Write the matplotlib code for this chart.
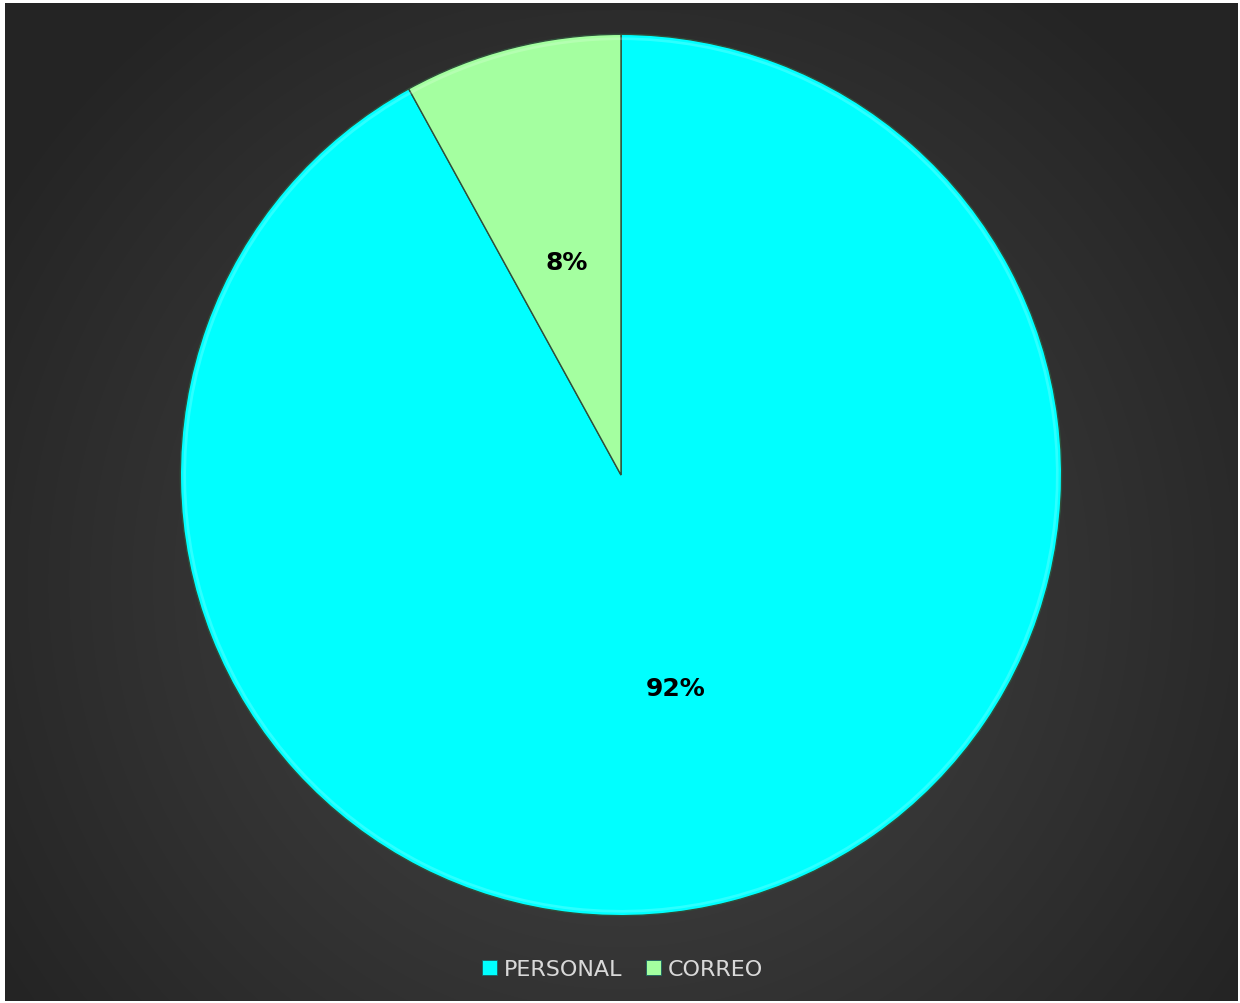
import matplotlib
matplotlib.use("Agg")
import matplotlib.pyplot as plt
from matplotlib.patches import Patch, Wedge
import numpy as np

LABELS = ["PERSONAL", "CORREO"]
SHARES = [92, 8]
COLORS = ["#00FFFF", "#A4FFA0"]

W, H = 1240, 1004
fig = plt.figure(figsize=(W / 100, H / 100), dpi=100, facecolor="white")

# dark radial-gradient backdrop
bg = fig.add_axes([5 / W, 2 / H, 1233 / W, 998 / H])
yy, xx = np.mgrid[0:998, 0:1233]
d = np.hypot((xx - 616) / 800, (yy - 580) / 800)
shade = np.clip(0.28 - 0.15 * d, 0.145, 0.28)
bg.imshow(np.dstack([shade] * 3), aspect="auto", interpolation="bilinear")
bg.set_axis_off()

# pie, radius 442 px centred at (621, 476)
cx, cy, r = 621, 476, 442
ax = fig.add_axes([(cx - r) / W, (H - cy - r) / H, 2 * r / W, 2 * r / H])
wedges, _, autotexts = ax.pie(
    SHARES, colors=COLORS, startangle=90, counterclock=False,
    autopct="%d%%", pctdistance=0.5, radius=0.997,
    wedgeprops=dict(edgecolor="#2f4f3a", linewidth=1.0),
    textprops=dict(fontsize=18, fontweight="bold", color="black"),
)
for w in wedges:
    w.set_clip_on(False)
    # soft highlight just inside the rim
    ax.add_patch(Wedge((0, 0), 0.99, w.theta1, w.theta2, width=0.006,
                       facecolor="white", alpha=0.18, linewidth=0))
ax.set_xlim(-1, 1)
ax.set_ylim(-1, 1)
ax.set_aspect("equal")
ax.set_axis_off()

handles = [Patch(facecolor=c, edgecolor="#1a6060", linewidth=0.6) for c in COLORS]
fig.legend(handles, LABELS, loc="center", bbox_to_anchor=(0.502, (H - 970) / H),
           ncol=2, frameon=False, fontsize=16, labelcolor="#d9d9d9",
           handlelength=0.65, handleheight=0.65, handletextpad=0.3, columnspacing=1.1)

fig.savefig("out.png", dpi=100, facecolor="white")
